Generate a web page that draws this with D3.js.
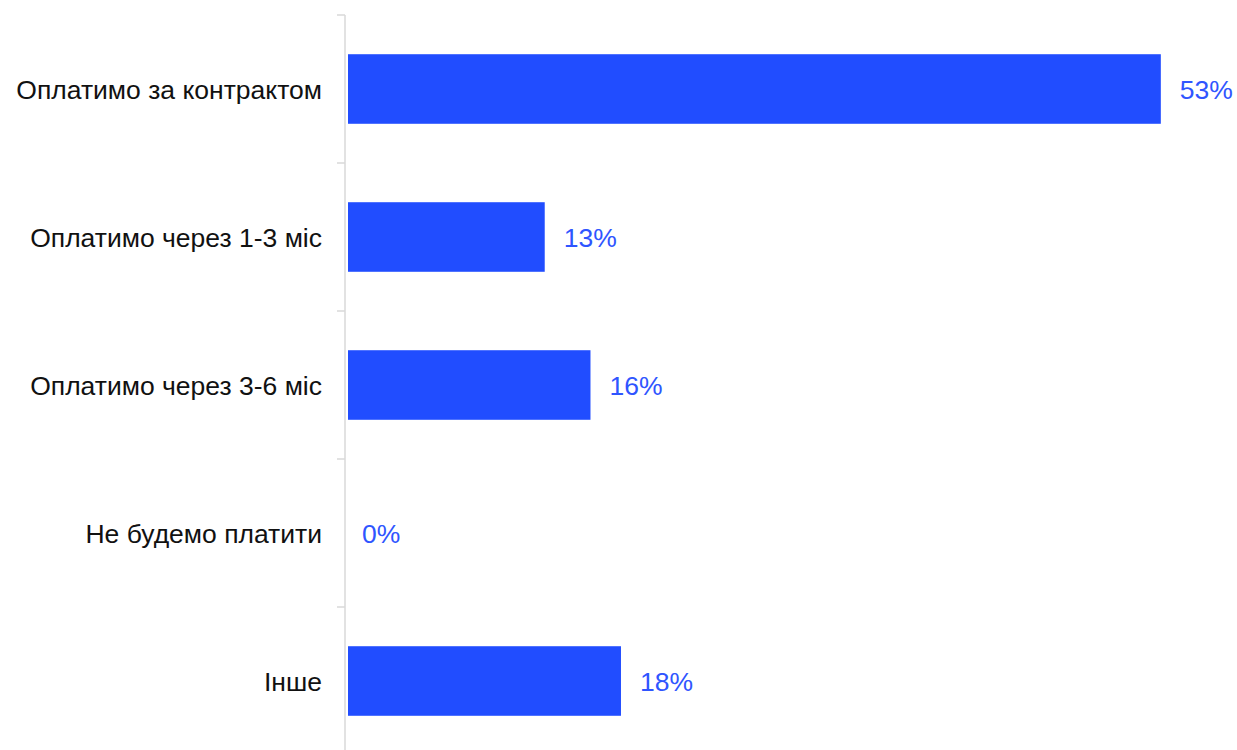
<!DOCTYPE html>
<html>
<head>
<meta charset="utf-8">
<script src="https://cdn.jsdelivr.net/npm/d3@7"></script>
<style>
  body { margin: 0; background: #fff; }
  svg { display: block; font-family: "Liberation Sans", Arial, sans-serif; }
</style>
</head>
<body>
<svg id="chart"></svg>
<script>
// categories and values (percent)
var categories = ["Оплатимо за контрактом", "Оплатимо через 1-3 міс", "Оплатимо через 3-6 міс", "Не будемо платити", "Інше"];
var values = [53.3, 12.9, 15.9, 0, 17.9];

var svgWidth = 1237;
var svgHeight = 750;
var axisX = 345;

var svg = d3.select('#chart')
    .attr('width', svgWidth)
    .attr('height', svgHeight);

var yScale = d3.scaleBand()
    .domain(categories)
    .range([15, 755])
    .paddingInner(0.53)
    .paddingOuter(0.265);

var xScale = d3.scaleLinear()
    .domain([0, 60])
    .range([348, 348 + 915]);

// boundaries between categories, used for the small tick marks
var step = yScale.step();
var boundaries = d3.range(categories.length + 1).map((i) => 15 + i * step);

// axis line
svg.append('line')
    .attr('x1', axisX).attr('x2', axisX)
    .attr('y1', 15).attr('y2', 755)
    .attr('stroke', '#d9d9d9')
    .attr('stroke-width', 1.5);

svg.selectAll('.tick-mark')
    .data(boundaries)
    .enter().append('line')
    .attr('class', 'tick-mark')
    .attr('x1', axisX - 8).attr('x2', axisX)
    .attr('y1', (d) => d).attr('y2', (d) => d)
    .attr('stroke', '#d9d9d9')
    .attr('stroke-width', 1.5);

// category labels
svg.selectAll('.cat-label')
    .data(categories)
    .enter().append('text')
    .attr('class', 'cat-label')
    .attr('x', 322)
    .attr('y', (d) => yScale(d) + yScale.bandwidth() / 2)
    .attr('dy', '0.36em')
    .attr('text-anchor', 'end')
    .attr('font-size', '26.5px')
    .attr('fill', '#111')
    .text((d) => d);

// bars
svg.selectAll('.bar')
    .data(values)
    .enter().append('rect')
    .attr('class', 'bar')
    .attr('x', xScale(0))
    .attr('y', (d, i) => yScale(categories[i]))
    .attr('width', (d) => xScale(d) - xScale(0))
    .attr('height', yScale.bandwidth())
    .attr('fill', '#214dff');

// value labels
svg.selectAll('.val-label')
    .data(values)
    .enter().append('text')
    .attr('class', 'val-label')
    .attr('x', (d) => d > 0 ? xScale(d) + 19 : xScale(0) + 14)
    .attr('y', (d, i) => yScale(categories[i]) + yScale.bandwidth() / 2)
    .attr('dy', '0.36em')
    .attr('font-size', '26.5px')
    .attr('fill', '#2f55ff')
    .text((d) => Math.round(d) + '%');
</script>
</body>
</html>
